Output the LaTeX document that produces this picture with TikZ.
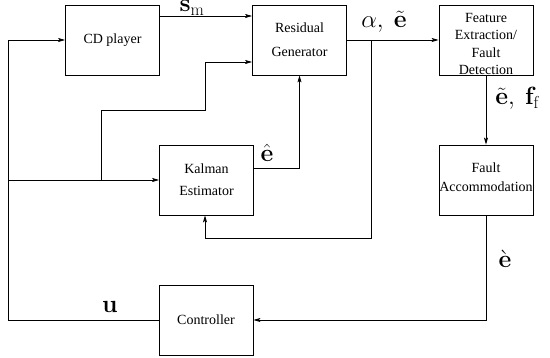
\documentclass[tikz,border=0pt]{standalone}
\usepackage[no-math]{fontspec}
\setmainfont{Liberation Serif}
\usetikzlibrary{arrows.meta}
\tikzset{
  block/.style={draw, line width=0.8pt, minimum width=94pt, minimum height=70pt,
    inner sep=0pt, align=center, font=\fontsize{14}{24}\selectfont},
  sig/.style={font=\fontsize{24}{28}\selectfont, inner sep=0pt}
}
\begin{document}
\begin{tikzpicture}[x=1pt, y=-1pt, line width=0.8pt,
    >={Stealth[length=7pt,width=4pt,inset=1.5pt]}]
      \useasboundingbox (0,0) rectangle (550,358);
      % Place the blocks
      \node[block] (cd) at (112.5,40) {CD player};
      \node[block] (res) at (299.5,40) {Residual\\Generator};
      \node[block, label={[align=center, font=\fontsize{14}{17.5}\selectfont,
        yshift=-4pt]center:Feature\\Extraction/\\Fault\\Detection}] (feat) at (486,40) {};
      \node[block] (kal) at (206.5,180) {\raisebox{-2pt}{Kalman}\\Estimator};
      \node[block, label={[align=center, font=\fontsize{14}{19}\selectfont,
        yshift=2.5pt]center:Fault\\Accommodation}] (acc) at (486,180) {};
      \node[block] (ctrl) at (206,320) {Controller};
      % Bends of the wires
      \coordinate (ubend) at (8,320);
      \coordinate (tap) at (101,180);
      \coordinate (mid) at (205,110);
      \coordinate (atap) at (371,40);
      \coordinate (kin) at (205,238);
      % Draw arrows CD player -> Residual Generator
      \draw[->] ([yshift=24pt]cd.east) -- ([yshift=24pt]res.west);
      % Draw arrows u -> CD player, Kalman, Residual
      \draw[->] (ctrl.west) -- (ubend) -- (ubend |- cd.west) -- (cd.west);
      \draw[->] (ubend |- kal.west) -- (kal.west);
      \draw[->] (tap) |- (mid) |- ([yshift=-22pt]res.west);
      % Draw arrows Kalman -> Residual
      \draw[->] ([yshift=12pt]kal.east) -| (res.south);
      % Draw arrows Residual -> Feature, Kalman
      \draw[->] (res.east) -- (feat.west);
      \draw[->] (atap) |- (kin) -- (kin |- kal.south);
      % Draw arrows Feature -> Fault -> Controller
      \draw[->] (feat.south) -- (acc.north);
      \draw[->] (acc.south) |- (ctrl.east);
      % Place the signals
      \node[sig, anchor=base] (sm) at (192,12) {$\mathbf{s}_\mathrm{m}$};
      \node[sig, anchor=base] (ae) at (384,28) {$\alpha,\ \tilde{\mathbf{e}}$};
      \node[sig, anchor=base] (eh) at (267,162) {$\hat{\mathbf{e}}$};
      \node[sig, anchor=base west] (ef) at (495,105) {$\tilde{\mathbf{e}},\ \mathbf{f}_\mathrm{f}$};
      \node[sig, anchor=base] (eg) at (505,268) {$\grave{\mathbf{e}}$};
      \node[sig, anchor=base] (u) at (110,313) {$\mathbf{u}$};
    \end{tikzpicture}
\end{document}
